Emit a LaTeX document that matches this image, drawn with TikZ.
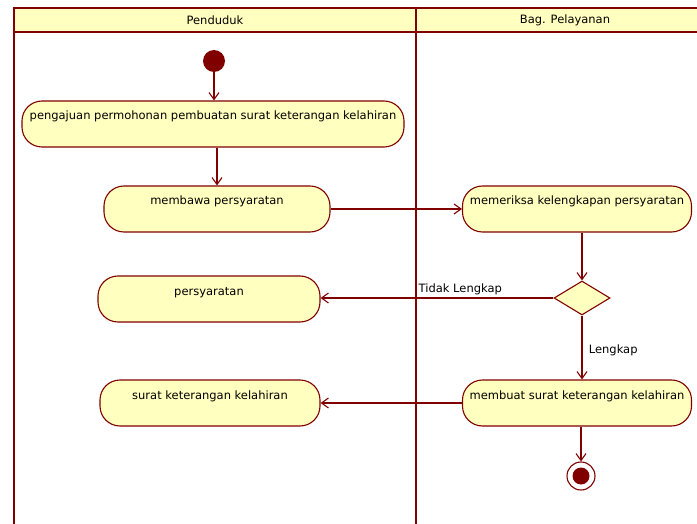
\documentclass[tikz,border=0pt]{standalone}
\usepackage{fontspec}
\setmainfont{DejaVu Sans}
\usetikzlibrary{shapes, arrows.meta, positioning, calc}
\definecolor{lanered}{RGB}{128,0,0}
\definecolor{actfill}{RGB}{255,255,192}

\begin{document}
\begin{tikzpicture}[x=1pt, y=-1pt, font=\fontsize{11.5}{13}\selectfont,
	act/.style={draw=lanered, fill=actfill, rounded corners=20pt, line width=1.1pt, minimum height=46pt, inner sep=0pt, text height=8pt, text depth=16pt},
	flow/.style={draw=lanered, line width=1.1pt, -{Straight Barb[length=7pt,width=10pt]}},
	lane/.style={draw=lanered, line width=2.2pt}]
	\useasboundingbox (0,0) rectangle (697,524);
	% swimlanes
	\fill[actfill] (14,8) rectangle (697,32);
	\draw[lane] (14,524) -- (14,8) -- (697,8);
	\draw[lane] (14,32) -- (697,32);
	\draw[lane] (416,8) -- (416,524);
	\node (penduduk) at (215,20) {Penduduk};
	\node (pelayanan) at (565,20) {Bag. Pelayanan};
	% nodes
	\node[circle, fill=lanered, minimum size=22pt, inner sep=0pt] (start) at (214,61) {};
	\node[act, minimum width=382pt] (pengajuan) at (213,124) {pengajuan permohonan pembuatan surat keterangan kelahiran};
	\node[act, minimum width=226pt] (membawa) at (217,209) {membawa persyaratan};
	\node[act, minimum width=229pt] (memeriksa) at (577,209) {memeriksa kelengkapan persyaratan};
	\node[diamond, draw=lanered, fill=actfill, line width=1.1pt, minimum width=56pt, minimum height=34pt, inner sep=0pt] (cek) at (582,298) {};
	\node[act, minimum width=222pt] (persyaratan) at (209,299) {persyaratan};
	\node[act, minimum width=229pt] (membuat) at (577,403) {membuat surat keterangan kelahiran};
	\node[act, minimum width=220pt] (surat) at (210,403) {surat keterangan kelahiran};
	\node[circle, draw=lanered, line width=1.1pt, fill=white, minimum size=28pt, inner sep=0pt] (stop) at (581,476) {};
	\fill[lanered] (stop.center) circle (8.5pt);
	% connectors
	\draw[flow] (start) -- (start |- pengajuan.north);
	\draw[flow] (membawa.north |- pengajuan.south) -- (membawa.north);
	\draw[flow] (membawa.east) -- (membawa.east -| memeriksa.west);
	\draw[flow] (memeriksa.south -| cek.north) -- (cek.north);
	\draw[flow] (cek.west) -- node[pos=0.4, above=-1pt] {Tidak Lengkap} (cek.west -| persyaratan.east);
	\draw[flow] (cek.south) -- node[pos=0.55, right=3pt] {Lengkap} (cek.south |- membuat.north);
	\draw[flow] (membuat.west) -- (surat.east);
	\draw[flow] (stop |- membuat.south) -- (stop);
\end{tikzpicture}
\end{document}
